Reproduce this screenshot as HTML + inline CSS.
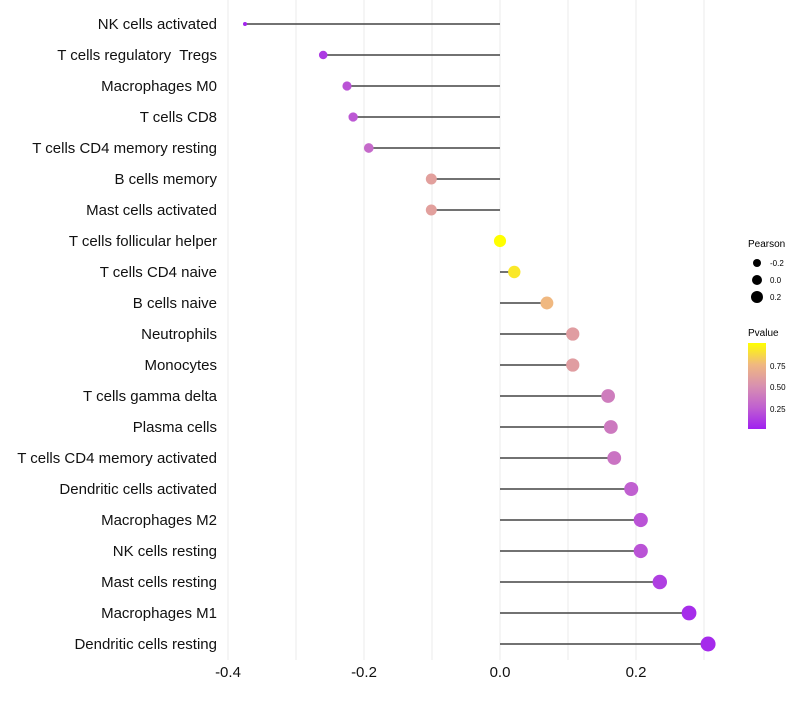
<!DOCTYPE html>
<html><head><meta charset="utf-8"><style>
body{margin:0;background:#fff;font-family:"Liberation Sans",Arial,sans-serif}
</style></head><body>
<svg id="chart" width="800" height="700" xmlns="http://www.w3.org/2000/svg">
<defs><linearGradient id="pg" x1="0" y1="1" x2="0" y2="0">
<stop offset="0" stop-color="#a020f0"/><stop offset="0.25" stop-color="#c060d0"/><stop offset="0.5" stop-color="#d890b0"/><stop offset="0.75" stop-color="#f0b880"/><stop offset="1" stop-color="#ffff00"/>
</linearGradient></defs>
<g id="grid"></g><g id="marks"></g><g id="labels"></g>
<g font-size="10">
<text x="748" y="247">Pearson</text>
<circle cx="757" cy="263" r="4" fill="#000"/><text x="770" y="266" font-size="8">-0.2</text>
<circle cx="757" cy="280" r="5" fill="#000"/><text x="770" y="283" font-size="8">0.0</text>
<circle cx="757" cy="297" r="6" fill="#000"/><text x="770" y="300" font-size="8">0.2</text>
<text x="748" y="336">Pvalue</text>
<rect x="748" y="343" width="18" height="86" fill="url(#pg)"/>
<text x="770" y="369" font-size="8">0.75</text>
<text x="770" y="390" font-size="8">0.50</text>
<text x="770" y="412" font-size="8">0.25</text>
</g>
</svg>
<script>
const categories=["NK cells activated","T cells regulatory  Tregs","Macrophages M0","T cells CD8","T cells CD4 memory resting","B cells memory","Mast cells activated","T cells follicular helper","T cells CD4 naive","B cells naive","Neutrophils","Monocytes","T cells gamma delta","Plasma cells","T cells CD4 memory activated","Dendritic cells activated","Macrophages M2","NK cells resting","Mast cells resting","Macrophages M1","Dendritic cells resting"];
const pearson=[-0.375,-0.26,-0.225,-0.216,-0.193,-0.101,-0.101,0.0,0.021,0.069,0.107,0.107,0.159,0.163,0.168,0.193,0.207,0.207,0.235,0.278,0.306];
const pvalues=[0.02,0.1,0.2,0.22,0.3,0.6,0.6,1.0,0.92,0.75,0.58,0.58,0.4,0.38,0.35,0.25,0.2,0.2,0.12,0.05,0.04];
const xTicks=[-0.4,-0.2,0.0,0.2];
const xTickLabels=["-0.4","-0.2","0.0","0.2"];
const gridVals=[-0.4,-0.3,-0.2,-0.1,0,0.1,0.2,0.3];
const NS="http://www.w3.org/2000/svg";
const xs=v=>500+v*680;
const ys=i=>24+i*31;
const stops=[[0,[160,32,240]],[0.25,[192,96,208]],[0.5,[216,144,176]],[0.75,[240,184,128]],[1,[255,255,0]]];
function col(p){for(let k=1;k<stops.length;k++){if(p<=stops[k][0]){const a=stops[k-1],b=stops[k],t=(p-a[0])/(b[0]-a[0]);return "rgb("+a[1].map((c,j)=>Math.round(c+(b[1][j]-c)*t)).join(",")+")";}}return "rgb(255,255,0)";}
const mn=Math.min(...pearson),mx=Math.max(...pearson);
const rad=v=>2+5.5*Math.sqrt((v-mn)/(mx-mn||1));
function mk(t,a,parent){const e=document.createElementNS(NS,t);for(const k in a)e.setAttribute(k,a[k]);document.getElementById(parent).appendChild(e);return e;}
gridVals.forEach(v=>{const e=mk("line",{x1:xs(v),x2:xs(v),y1:0,y2:660,stroke:"#ebebeb","stroke-width":1},"grid");

});
categories.forEach((c,i)=>{
const y=ys(i);
const l=mk("line",{x1:xs(0),x2:xs(pearson[i]),y1:y,y2:y,stroke:"#444","stroke-width":1.5},"marks");


const d=mk("circle",{cx:xs(pearson[i]),cy:y,r:rad(pearson[i]).toFixed(2),fill:col(pvalues[i])},"marks");


const t=mk("text",{x:217,y:y+5,"text-anchor":"end","font-size":15,fill:"#111",style:"white-space:pre"},"labels");
t.textContent=c;


});
xTicks.forEach((v,i)=>{const t=mk("text",{x:xs(v),y:677,"text-anchor":"middle","font-size":15,fill:"#111"},"labels");
t.textContent=xTickLabels[i];

});
</script>
</body></html>
